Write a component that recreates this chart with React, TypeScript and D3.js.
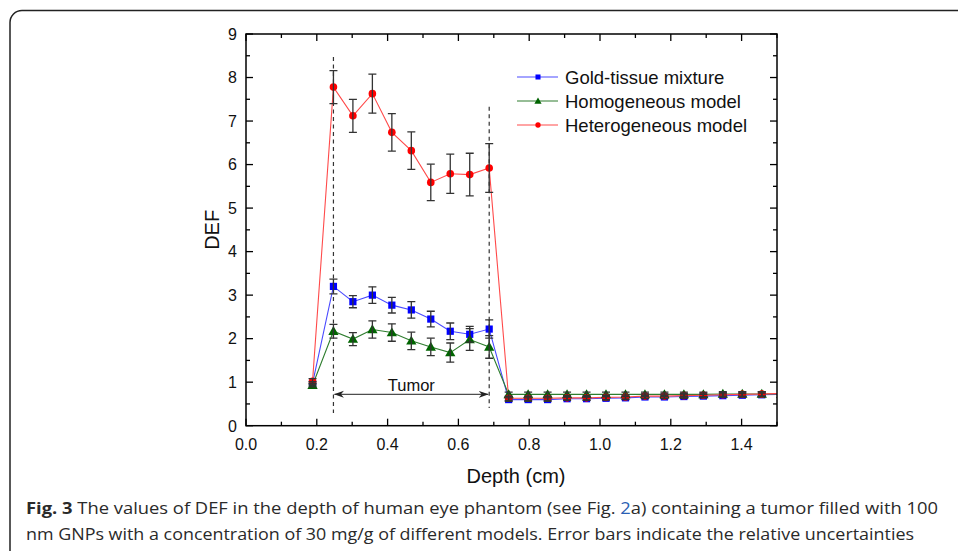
import React from "react";
import * as d3 from "d3";

const depth = [0.188, 0.247, 0.302, 0.357, 0.412, 0.467, 0.522, 0.577, 0.632, 0.687, 0.742, 0.797, 0.852, 0.907, 0.962, 1.017, 1.072, 1.127, 1.182, 1.237, 1.292, 1.347, 1.402, 1.457, 1.512];
const goldTissue = [0.97, 3.2, 2.85, 3.0, 2.77, 2.66, 2.45, 2.17, 2.1, 2.22, 0.6, 0.6, 0.6, 0.62, 0.62, 0.63, 0.64, 0.66, 0.66, 0.67, 0.68, 0.69, 0.7, 0.71, 0.72];
const goldTissueErr = [0.04, 0.17, 0.14, 0.19, 0.18, 0.19, 0.18, 0.19, 0.18, 0.21, 0.04, 0.04, 0.04, 0.04, 0.04, 0.04, 0.04, 0.04, 0.04, 0.04, 0.04, 0.04, 0.04, 0.04, 0.04];
const homogeneous = [0.93, 2.17, 1.99, 2.21, 2.14, 1.95, 1.81, 1.68, 1.98, 1.81, 0.72, 0.72, 0.72, 0.72, 0.72, 0.72, 0.72, 0.72, 0.72, 0.72, 0.72, 0.73, 0.73, 0.73, 0.73];
const homogeneousErr = [0.04, 0.16, 0.15, 0.2, 0.2, 0.2, 0.2, 0.22, 0.25, 0.26, 0.05, 0.05, 0.05, 0.05, 0.05, 0.05, 0.05, 0.05, 0.05, 0.05, 0.05, 0.05, 0.05, 0.05, 0.05];
const heterogeneous = [1.02, 7.78, 7.12, 7.63, 6.74, 6.32, 5.59, 5.79, 5.77, 5.92, 0.63, 0.63, 0.63, 0.64, 0.64, 0.65, 0.66, 0.68, 0.68, 0.69, 0.7, 0.71, 0.72, 0.73, 0.74];
const heterogeneousErr = [0.06, 0.38, 0.38, 0.45, 0.43, 0.43, 0.42, 0.45, 0.49, 0.56, 0.05, 0.05, 0.05, 0.05, 0.05, 0.05, 0.05, 0.05, 0.05, 0.05, 0.05, 0.05, 0.05, 0.05, 0.05];

const seriesNames = ["Gold-tissue mixture", "Homogeneous model", "Heterogeneous model"];
const xTicks = [0, 0.2, 0.4, 0.6, 0.8, 1.0, 1.2, 1.4];
const yTicks = [0, 1, 2, 3, 4, 5, 6, 7, 8, 9];
const tumorStart = 0.247;
const tumorEnd = 0.687;
const tumorLabel = "Tumor";
const xLabel = "Depth (cm)";
const yLabel = "DEF";

const L = 246, R = 777, T = 34, B = 425.7;
const x = d3.scaleLinear().domain([0, 1.5]).range([L, R]);
const y = d3.scaleLinear().domain([0, 9]).range([B, T]);

const FONT = "Arial, 'Liberation Sans', Helvetica, sans-serif";

type Series = { name: string; vals: number[]; err: number[]; line: string; fill: string; marker: "square" | "triangle" | "circle" };
const series: Series[] = [
  { name: seriesNames[0], vals: goldTissue, err: goldTissueErr, line: "#4a4aff", fill: "#0000ff", marker: "square" },
  { name: seriesNames[1], vals: homogeneous, err: homogeneousErr, line: "#2e7d2e", fill: "#006400", marker: "triangle" },
  { name: seriesNames[2], vals: heterogeneous, err: heterogeneousErr, line: "#ff4a4a", fill: "#ff0000", marker: "circle" },
];

function Marker({ kind, cx, cy, fill, s = 1 }: { kind: string; cx: number; cy: number; fill: string; s?: number }) {
  if (kind === "square") return <rect x={cx - 3.6 * s} y={cy - 3.6 * s} width={7.2 * s} height={7.2 * s} fill={fill} />;
  if (kind === "triangle") {
    const sym = d3.symbol().type(d3.symbolTriangle).size(46 * s * s)();
    return <path d={sym || ""} transform={`translate(${cx},${cy + 0.8 * s})`} fill={fill} />;
  }
  return <circle cx={cx} cy={cy} r={3.8 * s} fill={fill} />;
}

export default function App() {
  const line = d3.line<number>().x((_, i) => x(depth[i])).y((v) => y(v));
  const minorX = d3.range(0, 1.51, 0.1).filter((v) => Math.abs(Math.round(v * 5) - v * 5) > 0.01);
  const minorY = d3.range(0.5, 9, 1);
  const legendRows = [77, 101, 125];
  return (
    <svg width={958} height={551} style={{ position: "absolute", left: 0, top: 0, background: "#fff" }}>
      <defs>
        <clipPath id="plotclip">
          <rect x={L} y={T} width={R - L} height={B - T} />
        </clipPath>
        <marker id="arr" viewBox="0 0 10 10" refX="9.5" refY="5" markerWidth="10" markerHeight="10" orient="auto-start-reverse" markerUnits="userSpaceOnUse">
          <path d="M10,5 L0,1.5 L3,5 L0,8.5 Z" fill="#222" />
        </marker>
      </defs>
      <rect x={10} y={10.5} width={980} height={600} rx={12} ry={12} fill="none" stroke="#222" strokeWidth={1.5} />

      {/* dashed tumor boundaries */}
      <line x1={x(tumorStart)} x2={x(tumorStart)} y1={y(8.47)} y2={413} stroke="#333" strokeWidth={1.2} strokeDasharray="4,3.5" />
      <line x1={x(tumorEnd)} x2={x(tumorEnd)} y1={y(7.33)} y2={408} stroke="#333" strokeWidth={1.2} strokeDasharray="4,3.5" />
      {/* tumor arrow */}
      <line x1={x(tumorStart) + 1} x2={x(tumorEnd) - 1} y1={394.3} y2={394.3} stroke="#222" strokeWidth={1} markerStart="url(#arr)" markerEnd="url(#arr)" />
      <text x={x(0.467)} y={391} textAnchor="middle" fontFamily={FONT} fontSize={16.5} fill="#111">{tumorLabel}</text>

      <g clipPath="url(#plotclip)">
        {series.map((s) => (
          <path key={s.name + "l"} d={line(s.vals) || ""} fill="none" stroke={s.line} strokeWidth={1.1} />
        ))}
        {series.map((s) => (
          <g key={s.name + "m"}>
            {s.vals.map((v, i) => (
              <Marker key={i} kind={s.marker} cx={x(depth[i])} cy={y(v)} fill={s.fill} />
            ))}
          </g>
        ))}
        {series.map((s) => (
          <g key={s.name + "e"} stroke="#333" strokeWidth={1.3}>
            {s.vals.map((v, i) => {
              const cx = x(depth[i]);
              const y1 = y(v + s.err[i]);
              const y2 = y(v - s.err[i]);
              return (
                <g key={i}>
                  <line x1={cx} x2={cx} y1={y1} y2={y2} />
                  <line x1={cx - 4} x2={cx + 4} y1={y1} y2={y1} />
                  <line x1={cx - 4} x2={cx + 4} y1={y2} y2={y2} />
                </g>
              );
            })}
          </g>
        ))}
      </g>

      {/* axes frame */}
      <rect x={L} y={T} width={R - L} height={B - T} fill="none" stroke="#000" strokeWidth={1.5} />
      <g stroke="#000" strokeWidth={1.3}>
        {xTicks.map((t) => (
          <g key={"xt" + t}>
            <line x1={x(t)} x2={x(t)} y1={B} y2={B - 7} />
            <line x1={x(t)} x2={x(t)} y1={T} y2={T + 7} />
          </g>
        ))}
        {minorX.map((t) => (
          <g key={"xm" + t}>
            <line x1={x(t)} x2={x(t)} y1={B} y2={B - 4} />
            <line x1={x(t)} x2={x(t)} y1={T} y2={T + 4} />
          </g>
        ))}
        {yTicks.map((t) => (
          <g key={"yt" + t}>
            <line x1={L} x2={L + 7} y1={y(t)} y2={y(t)} />
            <line x1={R} x2={R - 7} y1={y(t)} y2={y(t)} />
          </g>
        ))}
        {minorY.map((t) => (
          <g key={"ym" + t}>
            <line x1={L} x2={L + 4} y1={y(t)} y2={y(t)} />
            <line x1={R} x2={R - 4} y1={y(t)} y2={y(t)} />
          </g>
        ))}
      </g>
      {xTicks.map((t) => (
        <text key={"xl" + t} x={x(t)} y={450} textAnchor="middle" fontFamily={FONT} fontSize={16} fill="#111">{d3.format(".1f")(t)}</text>
      ))}
      {yTicks.map((t) => (
        <text key={"yl" + t} x={237} y={y(t) + 5.8} textAnchor="end" fontFamily={FONT} fontSize={16} fill="#111">{t}</text>
      ))}
      <text x={516} y={483} textAnchor="middle" fontFamily={FONT} fontSize={20} fill="#111">{xLabel}</text>
      <text transform={`translate(219,${y(4.5)}) rotate(-90)`} textAnchor="middle" fontFamily={FONT} fontSize={20} fill="#111">{yLabel}</text>

      {/* legend */}
      {series.map((s, i) => (
        <g key={s.name + "lg"}>
          <line x1={517} x2={558} y1={legendRows[i]} y2={legendRows[i]} stroke={s.line} strokeWidth={1.1} />
          <Marker kind={s.marker} cx={538} cy={legendRows[i]} fill={s.fill} s={0.7} />
          <text x={565} y={legendRows[i] + 6.5} fontFamily={FONT} fontSize={18.5} fill="#111">{s.name}</text>
        </g>
      ))}

      {/* caption */}
      <text x={26} y={513.5} fontFamily="'Open Sans', sans-serif" fontSize={16.5} fill="#2a2a2a" textLength={912} lengthAdjust="spacingAndGlyphs">
        <tspan fontWeight="bold">Fig. 3</tspan>
        <tspan> The values of DEF in the depth of human eye phantom (see Fig. </tspan>
        <tspan fill="#2b5fb3">2</tspan>
        <tspan>a) containing a tumor filled with 100</tspan>
      </text>
      <text x={26} y={540} fontFamily="'Open Sans', sans-serif" fontSize={16.5} fill="#2a2a2a" textLength={888} lengthAdjust="spacingAndGlyphs">
        nm GNPs with a concentration of 30 mg/g of different models. Error bars indicate the relative uncertainties
      </text>
    </svg>
  );
}
